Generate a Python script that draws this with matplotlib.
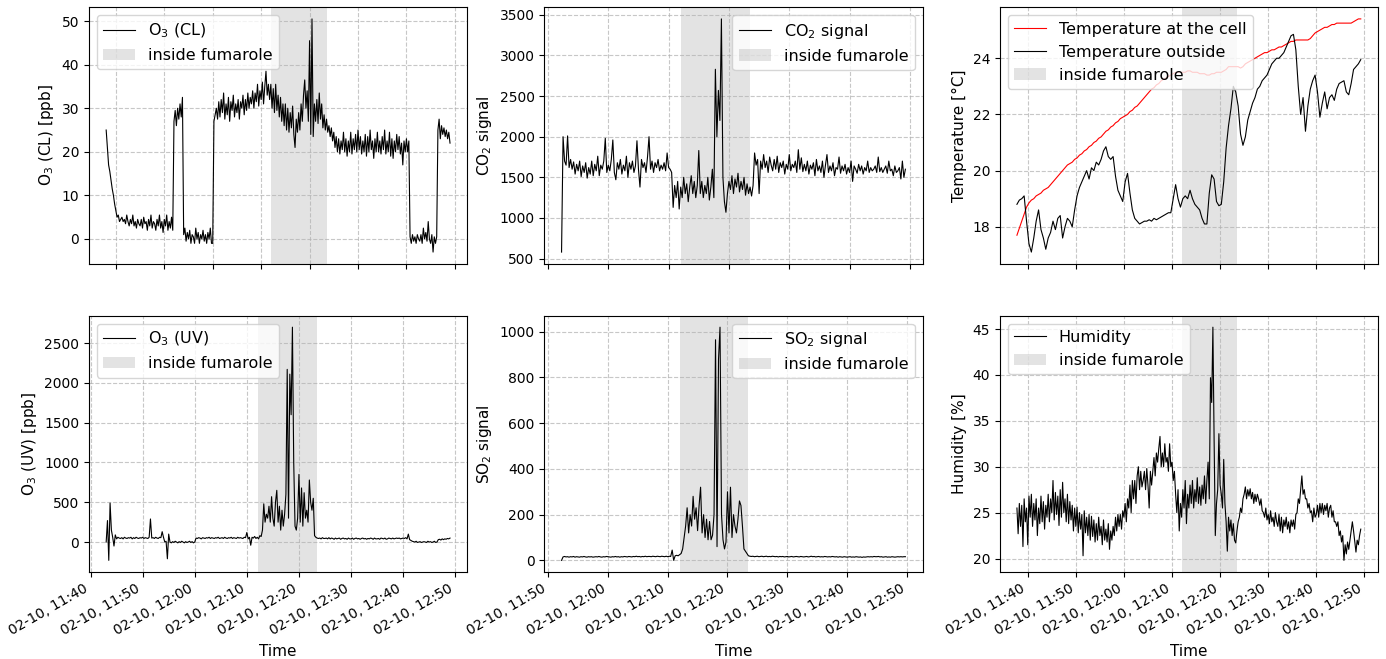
import pandas as pd
import matplotlib
matplotlib.use("Agg")
import matplotlib.pyplot as plt
import matplotlib.dates as mdates

DAY = "2023-02-10"
SPAN = ("12:12:05", "12:23:30")

# O3 chemiluminescence, 15 s steps from 11:38:00
o3_cl = [
    25.0, 21.0, 17.0, 15.5, 13.5, 11.5, 10.0, 8.0, 6.5, 5.0, 5.5, 4.0,
    4.5, 5.0, 4.0, 4.5, 3.5, 5.5, 4.0, 3.0, 4.5, 3.5, 5.5, 3.0,
    4.0, 2.5, 4.5, 3.5, 3.0, 4.5, 2.5, 5.0, 3.5, 4.0, 2.0, 4.5,
    3.0, 5.5, 2.5, 4.0, 3.5, 2.0, 4.5, 3.0, 5.5, 2.5, 4.0, 1.5,
    4.5, 3.0, 5.5, 2.0, 4.0, 2.5, 5.0, 2.0, 27.0, 29.5, 26.0, 30.0,
    27.5, 31.0, 28.0, 32.5, 1.0, 2.5, -0.5, 1.5, 0.0, 2.0, -1.0, 1.0,
    0.5, -1.0, 2.5, 0.0, 1.5, -1.0, 1.0, 0.0, 2.0, -0.5, 1.0, -1.0,
    1.5, 0.0, 2.5, -1.0, -1.0, 27.0, 28.5, 30.0, 27.5, 31.5, 28.0, 32.0,
    29.0, 33.5, 27.5, 31.0, 28.5, 32.5, 27.0, 31.5, 29.5, 33.0, 28.0, 31.0,
    29.0, 32.0, 27.5, 31.5, 30.0, 33.0, 28.5, 32.0, 29.5, 33.5, 30.0, 32.5,
    31.0, 34.0, 30.0, 33.5, 31.5, 35.5, 30.5, 34.0, 32.0, 36.0, 31.0, 35.0,
    38.5, 33.0, 35.5, 32.0, 35.5, 30.0, 34.5, 29.0, 35.5, 29.5, 33.0, 28.0,
    32.5, 27.0, 31.0, 26.0, 31.0, 25.0, 30.0, 24.5, 29.0, 25.5, 30.5, 24.0,
    21.0, 27.5, 24.5, 29.0, 25.0, 31.0, 27.0, 33.0, 36.5, 30.0, 34.0, 27.0,
    45.5, 24.0, 50.5, 23.5, 31.0, 27.0, 32.0, 26.5, 33.5, 27.5, 31.0, 25.5,
    28.5, 25.0, 27.5, 24.5, 26.0, 23.5, 25.5, 22.5, 24.5, 21.0, 23.5, 20.0,
    23.0, 19.5, 22.5, 20.5, 24.5, 20.0, 23.0, 19.0, 22.5, 20.0, 24.5, 19.5,
    23.0, 20.5, 24.0, 20.0, 25.0, 20.5, 23.5, 19.5, 22.5, 20.0, 24.0, 19.0,
    23.5, 20.0, 25.0, 20.5, 22.5, 18.5, 23.0, 20.0, 24.5, 20.0, 22.5, 19.5,
    23.5, 20.5, 25.0, 19.5, 22.5, 20.0, 24.5, 19.0, 23.0, 18.5, 22.5, 20.0,
    24.0, 20.5, 23.5, 19.5, 22.0, 17.0, 22.5, 20.0, 23.0, 20.0, 22.5, 0.5,
    -1.0, 1.0, -0.5, 0.5, -1.0, 1.0, 0.0, -0.5, 1.0, -1.0, 2.5, 0.0,
    1.5, -0.5, 4.0, 0.0, -1.0, 1.0, -3.0, 0.5, -1.0, 0.5, 25.0, 27.5,
    23.0, 26.0, 24.0, 25.5, 23.5, 25.0, 23.0, 24.5, 22.0,
]

# O3 UV, 15 s steps from 11:43:00
o3_uv = [
    0, 270, -230, 490, 150, 60, -50, 90, 40, 60, 50, 45,
    55, 40, 60, 50, 45, 55, 50, 60, 40, 55, 45, 60,
    50, 45, 55, 50, 60, 45, 55, 50, 45, 60, 290, 50,
    55, 45, 60, 50, 45, 60, 55, 130, 60, 0, 10, -210,
    100, 0, -10, 5, -5, 10, 0, -10, 5, -5, 10, 0,
    -10, 5, -5, 0, 10, -5, 5, -10, 0, 50, 45, 55,
    50, 40, 55, 50, 45, 55, 50, 60, 45, 55, 50, 45,
    55, 50, 60, 45, 50, 55, 45, 60, 50, 45, 55, 50,
    60, 45, 55, 50, 45, 60, 50, 55, 50, 45, 60, 55,
    120, 40, 60, -40, 60, 50, 70, 45, 60, 40, 80, 70,
    150, 480, 250, 350, 300, 450, 250, 570, 300, 200, 500, 650,
    250, 450, 150, 400, 200, 350, 600, 2170, 300, 2110, 1600, 2700,
    1000, 200, 150, 300, 850, 250, 680, 200, 620, 300, 400, 250,
    780, 500, 400, 550, 80, 60, 50, 45, 50, 40, 55, 45,
    45, 50, 40, 55, 40, 50, 45, 35, 50, 40, 45, 50,
    35, 45, 50, 40, 45, 35, 50, 40, 40, 50, 35, 45,
    50, 40, 45, 35, 45, 50, 40, 45, 35, 45, 40, 50,
    45, 35, 50, 40, 40, 45, 35, 50, 45, 40, 50, 35,
    40, 50, 45, 40, 50, 40, 45, 50, 45, 50, 40, 45,
    50, 45, 55, 40, 100, 30, 20, 10, 5, 0, 10, -5,
    0, 5, -5, 0, 5, 0, -5, 10, 0, 5, -5, 0,
    10, -5, 0, 30, 35, 25, 40, 30, 40, 35, 45, 40,
    50,
]

# CO2 signal, 15 s steps from 11:52:15
co2 = [
    580, 2000, 1700,
    1650, 2010, 1620, 1720, 1600, 1690, 1540, 1660, 1580, 1700, 1510, 1640,
    1560, 1680, 1490, 1620, 1540, 1700, 1520, 1660, 1580, 1760, 1520, 1650,
    1600, 1700, 1980, 1560, 1650, 1580, 1720, 1960, 1560, 1470, 1680, 1600,
    1720, 1540, 1650, 1580, 1760, 1500, 1680, 1600, 1700, 1560, 1640, 1950,
    1600, 1380, 1720, 1620, 1680, 1560, 1750, 2000, 1600, 1700, 1560, 1680,
    1620, 1720, 1580, 1650, 1600, 1680, 1580, 1800, 1620, 1600, 1560, 1130,
    1400, 1250, 1450, 1110, 1380, 1250, 1500, 1300, 1420, 1200, 1380, 1520,
    1300, 1450, 1250, 1400, 1830, 1300, 1450, 1250, 1400, 1300, 1500, 1220,
    1380, 1600, 1250, 2830, 2000, 2570, 2200, 3450, 1500, 1200, 1070, 1300,
    1450, 1350, 1520, 1300, 1480, 1380, 1550, 1320, 1450, 1350, 1500, 1280,
    1420, 1300, 1380, 1270, 1400, 1800, 1650, 1720, 1300, 1700, 1600, 1780,
    1620, 1700, 1560, 1750, 1650, 1580, 1720, 1600, 1760, 1560, 1680, 1620,
    1700, 1540, 1660, 1600, 1780, 1580, 1660, 1620, 1700, 1560, 1840, 1600,
    1740, 1570, 1660, 1580, 1700, 1540, 1650, 1600, 1680, 1520, 1720, 1580,
    1640, 1560, 1700, 1500, 1650, 1780, 1560, 1640, 1580, 1680, 1520, 1620,
    1600, 1750, 1550, 1640, 1580, 1660, 1540, 1620, 1560, 1700, 1450, 1640,
    1600, 1550, 1660, 1580, 1640, 1540, 1620, 1580, 1700, 1560, 1620, 1580,
    1600, 1640, 1560, 1750, 1570, 1620, 1560, 1600, 1640, 1550, 1700, 1580,
    1600, 1520, 1640, 1560, 1580, 1620, 1480, 1700, 1500, 1600,
]

# SO2 signal, 15 s steps from 11:52:15
so2 = [
    0, 15, 17,
    15, 16, 14, 16, 15, 17, 14, 16, 15, 14, 16, 15,
    17, 15, 14, 16, 15, 16, 14, 15, 16, 15, 17, 15,
    14, 16, 15, 17, 16, 15, 14, 16, 15, 17, 15, 16,
    14, 16, 15, 17, 16, 15, 17, 16, 15, 17, 16, 18,
    16, 17, 15, 17, 16, 18, 16, 17, 17, 16, 18, 17,
    16, 18, 17, 16, 18, 17, 16, 18, 16, 18, 17, 45,
    0, 20, 22, 20, 25, 30, 50, 100, 150, 230, 120, 200,
    150, 280, 180, 230, 130, 240, 320, 120, 200, 100, 180, 90,
    170, 90, 110, 200, 965, 60, 880, 1020, 200, 90, 50, 80,
    300, 120, 320, 100, 200, 150, 120, 180, 260, 240, 150, 50,
    40, 30, 20, 18, 17, 18, 16, 17, 18, 16, 17, 18,
    16, 17, 18, 16, 17, 16, 18, 17, 16, 17, 15, 17,
    16, 17, 15, 16, 17, 15, 16, 17, 15, 16, 17, 16,
    15, 17, 16, 15, 16, 17, 15, 16, 18, 16, 17, 15,
    16, 17, 15, 16, 15, 17, 16, 15, 16, 15, 17, 16,
    15, 16, 14, 16, 15, 14, 16, 15, 14, 15, 16, 14,
    15, 14, 16, 15, 14, 15, 13, 15, 14, 15, 16, 15,
    16, 15, 17, 16, 16, 17, 15, 16, 14, 15, 16, 14,
    15, 14, 16, 15, 14, 15, 16, 15, 16, 15, 16, 16,
]

# temperatures, 30 s steps from 11:37:45
temp_cell = [
    17.7, 17.95, 18.2, 18.45, 18.7, 18.85, 18.95, 19.0, 19.1, 19.15, 19.2, 19.3,
    19.35, 19.4, 19.5, 19.6, 19.7, 19.8, 19.9, 20.0, 20.1, 20.2, 20.25, 20.3,
    20.4, 20.45, 20.55, 20.6, 20.7, 20.75, 20.85, 20.9, 21.0, 21.05, 21.15, 21.2,
    21.3, 21.4, 21.45, 21.55, 21.6, 21.7, 21.75, 21.85, 21.9, 21.95, 22.0, 22.1,
    22.15, 22.25, 22.3, 22.4, 22.5, 22.6, 22.7, 22.8, 22.9, 22.95, 23.05, 23.1,
    23.2, 23.25, 23.3, 23.35, 23.4, 23.45, 23.5, 23.5, 23.5, 23.5, 23.5, 23.55,
    23.55, 23.5, 23.5, 23.5, 23.45, 23.45, 23.45, 23.4, 23.4, 23.45, 23.45, 23.5,
    23.5, 23.5, 23.55, 23.6, 23.7, 23.7, 23.7, 23.7, 23.7, 23.65, 23.7, 23.8,
    23.85, 23.9, 23.95, 24.0, 24.05, 24.1, 24.15, 24.2, 24.2, 24.25, 24.3, 24.3,
    24.35, 24.4, 24.4, 24.45, 24.5, 24.55, 24.6, 24.6, 24.65, 24.65, 24.65, 24.65,
    24.65, 24.65, 24.7, 24.8, 24.9, 24.95, 25.0, 25.05, 25.1, 25.1, 25.15, 25.2,
    25.2, 25.25, 25.25, 25.25, 25.25, 25.25, 25.25, 25.25, 25.3, 25.35, 25.4, 25.4,
]
temp_out = [
    18.8, 18.95, 19.0, 19.1, 18.2, 17.4, 17.1, 17.6, 18.2, 18.6, 17.9, 17.6,
    17.2, 17.6, 17.8, 18.2, 17.9, 18.3, 18.4, 17.6, 18.0, 18.3, 18.2, 18.0,
    18.6, 19.1, 19.4, 19.6, 19.8, 20.0, 19.7, 20.1, 20.0, 20.3, 20.2, 20.4,
    20.7, 20.85, 20.5, 20.4, 20.5, 19.8, 19.3, 19.1, 18.9, 19.6, 19.9, 19.2,
    18.6, 18.3, 18.2, 18.1, 18.15, 18.2, 18.2, 18.25, 18.2, 18.3, 18.25, 18.3,
    18.35, 18.4, 18.45, 18.5, 18.5, 19.0, 19.5, 19.0, 18.7, 19.0, 19.1, 19.0,
    19.3, 19.0, 18.8, 18.7, 18.6, 18.3, 18.1, 18.1, 19.2, 19.85, 19.7, 18.9,
    18.75, 18.8, 19.6, 20.8, 21.6, 22.2, 23.0, 22.8, 22.3, 21.3, 20.9, 21.2,
    21.8, 22.1, 22.4, 22.6, 22.9, 23.0, 23.2, 23.3, 23.4, 23.6, 23.8, 23.9,
    24.0, 24.0, 24.1, 24.2, 24.4, 24.6, 24.8, 24.85, 24.3, 23.0, 22.0, 22.6,
    21.4, 22.3, 22.9, 23.2, 23.4, 22.8, 21.9, 22.4, 22.8, 22.2, 22.6, 22.7,
    22.5, 22.9, 23.1, 23.15, 23.2, 22.8, 22.7, 23.1, 23.6, 23.7, 23.8, 23.95,
]

# humidity, 15 s steps from 11:37:45
humidity = [
    25.5,
    22.7, 26.0, 23.5, 25.8, 21.3, 26.5, 24.0, 25.5, 21.5, 26.8, 24.5, 27.0,
    23.5, 26.0, 24.2, 26.5, 22.5, 25.5, 23.8, 26.8, 24.0, 26.2, 23.2, 25.8,
    24.5, 27.0, 24.0, 26.5, 25.0, 28.5, 24.2, 27.2, 24.8, 26.8, 23.6, 27.5,
    24.5, 28.3, 25.0, 26.5, 24.0, 27.0, 23.8, 26.2, 24.2, 25.8, 23.0, 25.5,
    23.5, 25.6, 22.8, 25.0, 23.2, 24.8, 20.3, 25.2, 22.8, 24.5, 22.5, 24.8,
    22.0, 24.6, 22.4, 24.2, 21.8, 23.8, 22.0, 24.5, 22.5, 23.5, 21.5, 24.2,
    22.0, 23.2, 21.8, 23.8, 21.0, 23.0, 22.0, 23.5, 22.5, 24.5, 23.0, 24.8,
    23.5, 24.8, 23.2, 25.2, 24.5, 26.0, 24.0, 26.5, 25.5, 28.0, 25.0, 28.5,
    26.5, 28.5, 26.0, 29.0, 30.0, 27.5, 29.5, 27.8, 28.5, 29.5, 27.5, 29.8,
    28.0, 25.5, 29.5, 28.0, 29.5, 31.0, 29.0, 31.5, 30.5, 32.0, 33.3, 30.0,
    31.5, 30.0, 32.5, 30.5, 31.0, 29.5, 32.5, 30.0, 30.5, 28.5, 29.5, 27.0,
    25.0, 27.5, 23.0, 26.0, 24.5, 27.5, 25.5, 28.5, 23.8, 27.0, 25.5, 28.0,
    26.0, 28.5, 25.5, 27.5, 26.2, 28.8, 26.0, 27.8, 25.8, 28.0, 26.5, 29.0,
    26.0, 28.5, 30.5, 26.5, 39.7, 37.0, 45.2, 33.0, 22.5, 26.0, 27.5, 33.6,
    28.0, 27.0, 25.5, 30.8, 26.0, 24.0, 20.8, 24.5, 23.0, 24.2, 22.5, 23.8,
    22.0, 21.7, 23.0, 24.0, 24.5, 25.5, 25.0, 26.5, 27.0, 27.8, 26.5, 27.5,
    26.8, 27.6, 26.5, 27.2, 26.0, 27.0, 26.2, 27.0, 26.5, 25.8, 26.5, 25.2,
    25.0, 24.5, 25.5, 24.2, 24.8, 23.8, 25.2, 24.0, 24.5, 23.5, 25.0, 24.0,
    23.5, 24.8, 23.0, 24.5, 22.8, 24.2, 23.5, 24.5, 23.2, 24.0, 22.8, 24.2,
    23.5, 24.2, 23.2, 24.8, 25.0, 26.5, 26.0, 27.5, 29.0, 27.0, 27.5, 26.5,
    26.5, 25.5, 26.0, 25.0, 25.2, 24.0, 25.5, 24.5, 24.8, 25.8, 24.5, 26.0,
    25.0, 26.0, 24.8, 25.8, 25.2, 26.0, 24.5, 25.5, 25.8, 24.5, 25.2, 24.0,
    24.0, 23.5, 24.0, 22.5, 23.0, 21.8, 22.5, 19.8, 21.5, 20.5, 21.8, 21.0,
    22.0, 23.0, 24.0, 23.0, 21.8, 20.7, 22.0, 21.5, 22.5, 23.2,
]


def times(start, n, step):
    return pd.date_range(f"{DAY} {start}", periods=n, freq=step)


def shade(ax):
    ax.axvspan(pd.Timestamp(f"{DAY} {SPAN[0]}"), pd.Timestamp(f"{DAY} {SPAN[1]}"),
               color="grey", alpha=0.22, lw=0, label="inside fumarole")


plt.rcParams.update({"font.size": 10, "axes.labelsize": 11, "legend.fontsize": 11.5})

fig, axes = plt.subplots(2, 3, figsize=(13.86, 6.59), dpi=100)
LW = 0.8

ax = axes[0, 0]
ax.plot(times("11:38:00", len(o3_cl), "15s"), o3_cl, c="k", lw=LW, label=r"O$_3$ (CL)")
shade(ax)
ax.set_ylabel(r"O$_3$ (CL) [ppb]")
ax.legend(loc="upper left")

ax = axes[0, 1]
ax.plot(times("11:52:15", len(co2), "15s"), co2, c="k", lw=LW, label=r"CO$_2$ signal")
shade(ax)
ax.set_ylabel(r"CO$_2$ signal")
ax.legend(loc="upper right")

ax = axes[0, 2]
ax.plot(times("11:37:45", len(temp_cell), "30s"), temp_cell, c="r", lw=LW,
        label="Temperature at the cell")
ax.plot(times("11:37:45", len(temp_out), "30s"), temp_out, c="k", lw=LW,
        label="Temperature outside")
shade(ax)
ax.set_ylabel("Temperature [°C]")
ax.legend(loc="upper left")

ax = axes[1, 0]
ax.plot(times("11:43:00", len(o3_uv), "15s"), o3_uv, c="k", lw=LW, label=r"O$_3$ (UV)")
shade(ax)
ax.set_ylabel(r"O$_3$ (UV) [ppb]")
ax.legend(loc="upper left")

ax = axes[1, 1]
ax.plot(times("11:52:15", len(so2), "15s"), so2, c="k", lw=LW, label=r"SO$_2$ signal")
shade(ax)
ax.set_ylabel(r"SO$_2$ signal")
ax.legend(loc="upper right")

ax = axes[1, 2]
ax.plot(times("11:37:45", len(humidity), "15s"), humidity, c="k", lw=LW, label="Humidity")
shade(ax)
ax.set_ylabel("Humidity [%]")
ax.legend(loc="upper left")

for ax in axes.flat:
    ax.grid(True, ls="--", alpha=0.7)
    ax.xaxis.set_major_locator(mdates.MinuteLocator(byminute=range(0, 60, 10)))
    ax.xaxis.set_major_formatter(mdates.DateFormatter("%m-%d, %H:%M"))
for ax in axes[1]:
    ax.set_xlabel("Time")

fig.autofmt_xdate(rotation=30, ha="right")
fig.subplots_adjust(left=0.0642, right=0.9942, top=0.989, bottom=0.132,
                    wspace=0.204, hspace=0.202)
fig.savefig("out.png", dpi=100)
